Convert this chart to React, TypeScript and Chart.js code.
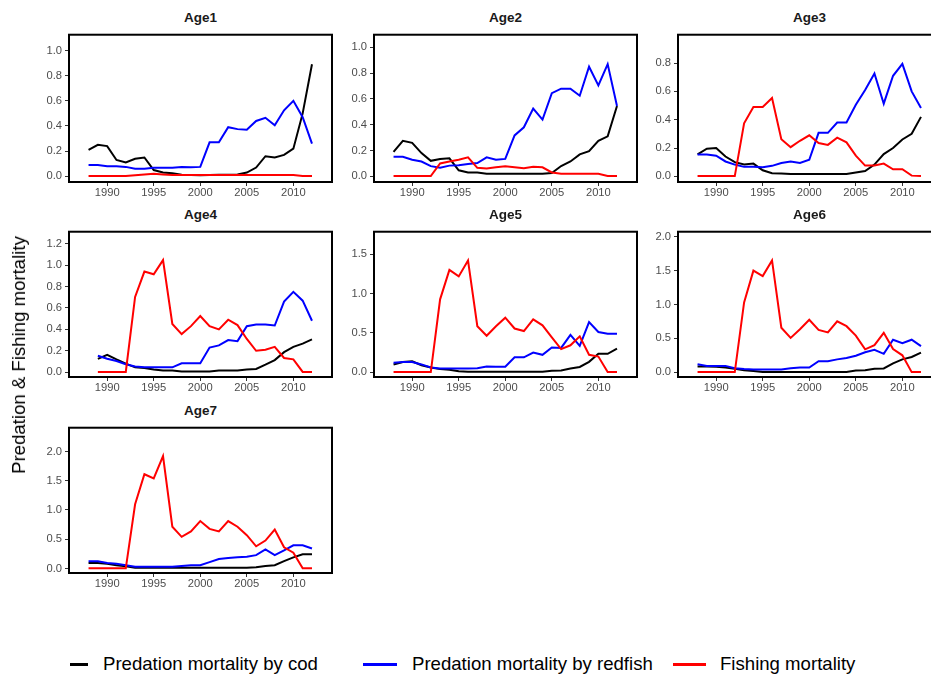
import React, { useEffect, useRef } from "react";
import { Chart, registerables } from "chart.js";
Chart.register(...registerables);

// ---------- data ----------
const years = [1988, 1989, 1990, 1991, 1992, 1993, 1994, 1995, 1996, 1997, 1998, 1999, 2000, 2001, 2002, 2003, 2004, 2005, 2006, 2007, 2008, 2009, 2010, 2011, 2012];
const years1989 = [1989, 1990, 1991, 1992, 1993, 1994, 1995, 1996, 1997, 1998, 1999, 2000, 2001, 2002, 2003, 2004, 2005, 2006, 2007, 2008, 2009, 2010, 2011, 2012];

const seriesNames = ["Predation mortality by cod", "Predation mortality by redfish", "Fishing mortality"];
const seriesColors = ["#000000", "#0000FF", "#FF0000"];

const cod1 = [0.21, 0.25, 0.24, 0.13, 0.11, 0.14, 0.15, 0.05, 0.03, 0.025, 0.012, 0.01, 0.008, 0.01, 0.012, 0.012, 0.015, 0.03, 0.07, 0.16, 0.15, 0.17, 0.22, 0.5, 0.89];
const redfish1 = [0.09, 0.09, 0.08, 0.08, 0.075, 0.06, 0.06, 0.068, 0.068, 0.068, 0.075, 0.072, 0.075, 0.27, 0.27, 0.39, 0.375, 0.37, 0.44, 0.465, 0.405, 0.525, 0.6, 0.47, 0.26];
const fishing1 = [0.002, 0.002, 0.002, 0.002, 0.002, 0.008, 0.015, 0.02, 0.015, 0.01, 0.01, 0.01, 0.01, 0.01, 0.01, 0.01, 0.01, 0.01, 0.01, 0.01, 0.01, 0.01, 0.01, 0.002, 0.002];

const cod2 = [0.19, 0.275, 0.26, 0.18, 0.12, 0.135, 0.14, 0.047, 0.03, 0.03, 0.02, 0.02, 0.02, 0.02, 0.02, 0.02, 0.02, 0.025, 0.08, 0.115, 0.17, 0.195, 0.275, 0.31, 0.545];
const redfish2 = [0.152, 0.152, 0.128, 0.115, 0.079, 0.066, 0.083, 0.086, 0.096, 0.103, 0.147, 0.128, 0.135, 0.317, 0.38, 0.525, 0.44, 0.645, 0.68, 0.68, 0.625, 0.85, 0.705, 0.87, 0.545];
const fishing2 = [0.002, 0.002, 0.002, 0.002, 0.002, 0.1, 0.115, 0.128, 0.147, 0.066, 0.06, 0.07, 0.078, 0.071, 0.062, 0.074, 0.07, 0.03, 0.02, 0.02, 0.02, 0.02, 0.02, 0.003, 0.002];

const cod3 = [0.155, 0.195, 0.2, 0.14, 0.1, 0.083, 0.09, 0.043, 0.022, 0.02, 0.016, 0.016, 0.016, 0.016, 0.016, 0.016, 0.016, 0.027, 0.038, 0.083, 0.157, 0.2, 0.26, 0.3, 0.42];
const redfish3 = [0.155, 0.155, 0.146, 0.105, 0.083, 0.067, 0.067, 0.065, 0.074, 0.094, 0.105, 0.094, 0.117, 0.307, 0.307, 0.38, 0.38, 0.505, 0.61, 0.726, 0.513, 0.71, 0.794, 0.6, 0.482];
const fishing3 = [0.002, 0.002, 0.002, 0.002, 0.002, 0.374, 0.49, 0.49, 0.553, 0.262, 0.206, 0.251, 0.29, 0.235, 0.222, 0.273, 0.24, 0.146, 0.076, 0.076, 0.09, 0.05, 0.05, 0.005, 0.002];

const cod4 = [0.125, 0.163, 0.12, 0.08, 0.045, 0.04, 0.025, 0.015, 0.015, 0.006, 0.006, 0.006, 0.006, 0.015, 0.015, 0.015, 0.025, 0.03, 0.07, 0.113, 0.187, 0.237, 0.267, 0.306];
const redfish4 = [0.154, 0.125, 0.104, 0.074, 0.053, 0.045, 0.045, 0.045, 0.045, 0.083, 0.083, 0.083, 0.23, 0.25, 0.3, 0.29, 0.43, 0.445, 0.445, 0.436, 0.66, 0.75, 0.668, 0.48];
const fishing4 = [0.002, 0.002, 0.002, 0.002, 0.703, 0.94, 0.914, 1.047, 0.45, 0.356, 0.43, 0.525, 0.43, 0.4, 0.49, 0.44, 0.31, 0.2, 0.21, 0.237, 0.133, 0.12, 0.002, 0.002];

const cod5 = [0.1, 0.13, 0.14, 0.09, 0.06, 0.04, 0.032, 0.012, 0.008, 0.008, 0.008, 0.008, 0.008, 0.008, 0.008, 0.008, 0.008, 0.02, 0.024, 0.048, 0.068, 0.133, 0.234, 0.234, 0.3];
const redfish5 = [0.12, 0.13, 0.13, 0.1, 0.06, 0.048, 0.048, 0.048, 0.048, 0.052, 0.073, 0.07, 0.07, 0.19, 0.19, 0.25, 0.222, 0.315, 0.31, 0.476, 0.335, 0.637, 0.512, 0.49, 0.49];
const fishing5 = [0.002, 0.002, 0.002, 0.002, 0.002, 0.927, 1.3, 1.218, 1.42, 0.585, 0.464, 0.585, 0.694, 0.556, 0.524, 0.673, 0.597, 0.444, 0.294, 0.343, 0.456, 0.222, 0.2, 0.002, 0.002];

const cod6 = [0.085, 0.085, 0.08, 0.07, 0.05, 0.03, 0.02, 0.005, 0.005, 0.005, 0.005, 0.005, 0.005, 0.005, 0.005, 0.005, 0.005, 0.025, 0.03, 0.05, 0.056, 0.13, 0.19, 0.225, 0.29];
const redfish6 = [0.117, 0.094, 0.094, 0.094, 0.06, 0.047, 0.042, 0.042, 0.042, 0.042, 0.06, 0.07, 0.07, 0.164, 0.164, 0.19, 0.21, 0.244, 0.296, 0.33, 0.272, 0.48, 0.43, 0.48, 0.385];
const fishing6 = [0.002, 0.002, 0.002, 0.002, 0.002, 1.03, 1.5, 1.42, 1.65, 0.657, 0.507, 0.634, 0.775, 0.624, 0.587, 0.751, 0.68, 0.54, 0.338, 0.4, 0.582, 0.343, 0.25, 0.002, 0.002];

const cod7 = [0.092, 0.092, 0.08, 0.054, 0.038, 0.01, 0.01, 0.01, 0.01, 0.01, 0.01, 0.01, 0.01, 0.01, 0.01, 0.01, 0.01, 0.01, 0.02, 0.043, 0.054, 0.124, 0.19, 0.243, 0.243];
const redfish7 = [0.124, 0.124, 0.092, 0.08, 0.054, 0.027, 0.027, 0.027, 0.027, 0.027, 0.043, 0.054, 0.054, 0.108, 0.162, 0.178, 0.19, 0.2, 0.227, 0.324, 0.227, 0.308, 0.395, 0.395, 0.34];
const fishing7 = [0.002, 0.002, 0.002, 0.002, 0.002, 1.097, 1.61, 1.54, 1.92, 0.713, 0.54, 0.632, 0.81, 0.676, 0.632, 0.81, 0.713, 0.568, 0.378, 0.476, 0.665, 0.362, 0.27, 0.002, 0.002];

const xTicks = [1990, 1995, 2000, 2005, 2010];
const yTicksA = [0, 0.2, 0.4, 0.6, 0.8, 1.0];
const yTicksB = [0, 0.2, 0.4, 0.6, 0.8];
const yTicksC = [0, 0.2, 0.4, 0.6, 0.8, 1.0, 1.2];
const yTicksD = [0, 0.5, 1.0, 1.5];
const yTicksE = [0, 0.5, 1.0, 1.5, 2.0];

const panelTitles = ["Age1", "Age2", "Age3", "Age4", "Age5", "Age6", "Age7"];

// ---------- panel definitions (data refs + axis ranges) ----------
const panels = [
  { title: panelTitles[0], x: years, s: [cod1, redfish1, fishing1], yMin: -0.045, yMax: 1.125, yTicks: yTicksA },
  { title: panelTitles[1], x: years, s: [cod2, redfish2, fishing2], yMin: -0.044, yMax: 1.098, yTicks: yTicksA },
  { title: panelTitles[2], x: years, s: [cod3, redfish3, fishing3], yMin: -0.04, yMax: 1.0, yTicks: yTicksB },
  { title: panelTitles[3], x: years1989, s: [cod4, redfish4, fishing4], yMin: -0.045, yMax: 1.312, yTicks: yTicksC },
  { title: panelTitles[4], x: years, s: [cod5, redfish5, fishing5], yMin: -0.06, yMax: 1.786, yTicks: yTicksD },
  { title: panelTitles[5], x: years, s: [cod6, redfish6, fishing6], yMin: -0.07, yMax: 2.074, yTicks: yTicksE },
  { title: panelTitles[6], x: years, s: [cod7, redfish7, fishing7], yMin: -0.078, yMax: 2.405, yTicks: yTicksE },
];

// ---------- layout ----------
const COL_LEFT = [69, 374, 678];
const ROW_TOP = [27, 224, 420];
const ROW_H = [155, 153, 153];
const PANEL_W = 263;
const Y_AXIS_W = 50;
const X_AXIS_H = 24;
const PAD_TOP = 2;
const PAD_RIGHT = 3;
const FONT = '"Liberation Sans", Arial, Helvetica, sans-serif';

const borderPlugin = {
  id: "panelBorder",
  afterDraw(chart: any) {
    const { ctx, chartArea: a } = chart;
    ctx.save();
    ctx.strokeStyle = "#000";
    ctx.lineWidth = 2;
    ctx.strokeRect(a.left, a.top, a.right - a.left, a.bottom - a.top);
    ctx.restore();
  },
};

function Panel({ p, left, top, h }: any) {
  const ref = useRef<HTMLCanvasElement>(null);
  useEffect(() => {
    const order = [3, 2, 1];
    const chart = new Chart(ref.current as HTMLCanvasElement, {
      type: "line",
      data: {
        datasets: p.s.map((vals: number[], i: number) => ({
          label: seriesNames[i],
          data: vals.map((v: number, j: number) => ({ x: p.x[j], y: v })),
          borderColor: seriesColors[i],
          backgroundColor: seriesColors[i],
          borderWidth: 2,
          pointRadius: 0,
          tension: 0,
          fill: false,
          order: order[i],
        })),
      },
      options: {
        responsive: false,
        animation: false,
        devicePixelRatio: 1,
        layout: { padding: { top: PAD_TOP, right: PAD_RIGHT, left: 0, bottom: 0 } },
        plugins: { legend: { display: false }, tooltip: { enabled: false }, title: { display: false } },
        scales: {
          x: {
            type: "linear",
            min: 1985.9,
            max: 2014.15,
            afterBuildTicks: (s: any) => {
              s.ticks = xTicks.map((v) => ({ value: v }));
            },
            afterFit: (s: any) => {
              s.height = X_AXIS_H;
            },
            ticks: {
              autoSkip: false,
              maxRotation: 0,
              padding: 0,
              color: "#4d4d4d",
              font: { family: FONT, size: 11.2 },
              callback: (v: any) => String(v),
            },
            grid: { drawOnChartArea: false, drawTicks: true, tickLength: 4, color: "#333", lineWidth: 1 },
            border: { display: false },
          },
          y: {
            type: "linear",
            min: p.yMin,
            max: p.yMax,
            afterBuildTicks: (s: any) => {
              s.ticks = p.yTicks.map((v: number) => ({ value: v }));
            },
            afterFit: (s: any) => {
              s.width = Y_AXIS_W;
            },
            ticks: {
              autoSkip: false,
              padding: 3,
              color: "#4d4d4d",
              font: { family: FONT, size: 11.2 },
              callback: (v: any) => Number(v).toFixed(1),
            },
            grid: { drawOnChartArea: false, drawTicks: true, tickLength: 4, color: "#333", lineWidth: 1 },
            border: { display: false },
          },
        },
      },
      plugins: [borderPlugin],
    } as any);
    return () => chart.destroy();
  }, []);
  const cw = Y_AXIS_W + PANEL_W + PAD_RIGHT;
  const ch = PAD_TOP + h + X_AXIS_H;
  return (
    <>
      <div
        style={{
          position: "absolute",
          left,
          top: top - 18,
          width: PANEL_W,
          height: 18,
          lineHeight: "18px",
          textAlign: "center",
          fontFamily: FONT,
          fontWeight: "bold",
          fontSize: 13.5,
          color: "#1a1a1a",
        }}
      >
        {p.title}
      </div>
      <canvas
        ref={ref}
        width={cw}
        height={ch}
        style={{ position: "absolute", left: left - Y_AXIS_W, top: top - PAD_TOP, width: cw, height: ch }}
      />
    </>
  );
}

export default function App() {
  const legendKeys = [
    { left: 70, width: 18, textLeft: 103 },
    { left: 363, width: 34, textLeft: 412 },
    { left: 673, width: 33, textLeft: 720 },
  ];
  return (
    <div
      style={{
        position: "fixed",
        left: 0,
        top: 0,
        width: 931,
        height: 677,
        overflow: "hidden",
        background: "#fff",
        fontFamily: FONT,
      }}
    >
      {panels.map((p, i) => (
        <Panel key={p.title} p={p} left={COL_LEFT[i % 3]} top={ROW_TOP[Math.floor(i / 3)]} h={ROW_H[Math.floor(i / 3)]} />
      ))}
      <div
        style={{
          position: "absolute",
          left: 19,
          top: 355,
          transform: "translate(-50%, -50%) rotate(-90deg)",
          whiteSpace: "nowrap",
          fontSize: 18.6,
          color: "#000",
          lineHeight: "22px",
        }}
      >
        Predation &amp; Fishing mortality
      </div>
      {legendKeys.map((k, i) => (
        <React.Fragment key={i}>
          <div
            style={{
              position: "absolute",
              left: k.left,
              top: 663,
              width: k.width,
              height: 3,
              background: seriesColors[i],
            }}
          />
          <div
            style={{
              position: "absolute",
              left: k.textLeft,
              top: 653,
              height: 22,
              lineHeight: "22px",
              fontSize: 18.6,
              color: "#000",
              whiteSpace: "nowrap",
            }}
          >
            {seriesNames[i]}
          </div>
        </React.Fragment>
      ))}
    </div>
  );
}
